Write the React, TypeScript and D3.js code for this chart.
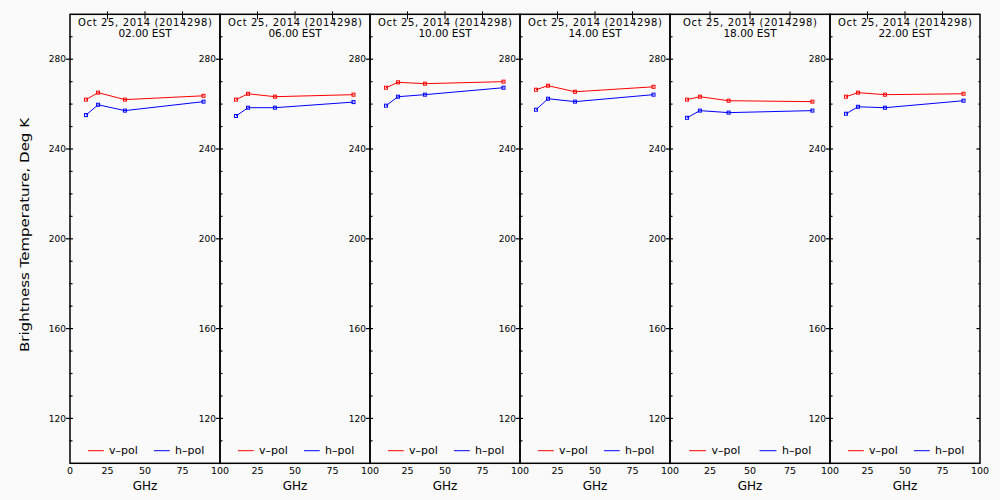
import React from "react";
import * as d3 from "d3";

const frequencies = [10.65, 18.7, 36.64, 89.0];
const dateLabel = "Oct 25, 2014 (2014298)";
const timeLabels = ["02.00 EST", "06.00 EST", "10.00 EST", "14.00 EST", "18.00 EST", "22.00 EST"];
const vPol = [
  [262.0, 265.1, 262.0, 263.7],
  [262.0, 264.6, 263.3, 264.2],
  [267.3, 269.7, 269.1, 270.0],
  [266.4, 268.2, 265.5, 267.7],
  [262.0, 263.3, 261.5, 261.1],
  [263.3, 265.1, 264.2, 264.6],
];
const hPol = [
  [255.1, 259.7, 257.1, 261.1],
  [254.7, 258.4, 258.4, 260.9],
  [259.3, 263.3, 264.2, 267.3],
  [257.5, 262.4, 261.1, 264.2],
  [253.9, 257.1, 256.2, 257.1],
  [255.7, 258.8, 258.4, 261.5],
];
const xTicks = [0, 25, 50, 75, 100];
const yMajorTicks = [120, 160, 200, 240, 280];
const yMinorTicks = d3.range(110, 300, 10).filter((v) => v % 40 !== 0);
const seriesNames = ["v–pol", "h–pol"];
const seriesColors = ["#ff0000", "#0000ff"];

const panelEdges = [70, 220, 370, 520, 670, 830, 980];
const TOP = 14.3;
const BOTTOM = 463.3;
const FONT = "'DejaVu Sans', sans-serif";

export default function App() {
  const y = d3.scaleLinear().domain([100, 300]).range([BOTTOM, TOP]);
  const panels = timeLabels.map((t, i) => {
    const x0 = panelEdges[i];
    const x1 = panelEdges[i + 1];
    const x = d3.scaleLinear().domain([0, 100]).range([x0, x1]);
    return { t, i, x0, x1, x };
  });

  return (
    <svg
      width={1000}
      height={500}
      style={{ position: "absolute", left: 0, top: 0 }}
      fontFamily={FONT}
    >
      <rect x={0} y={0} width={1000} height={500} fill="#fafafa" />
      {panels.map(({ t, i, x0, x1, x }) => {
        const w = x1 - x0;
        const cx = (x0 + x1) / 2;
        const line = d3
          .line<number>()
          .x((_, k) => x(frequencies[k]))
          .y((d) => y(d));
        const series = [vPol[i], hPol[i]];
        const legY = 450.7;
        return (
          <g key={i}>
            {series.map((vals, s) => (
              <g key={s}>
                <path d={line(vals) || ""} fill="none" stroke={seriesColors[s]} strokeWidth={1} />
                {vals.map((v, k) => (
                  <rect
                    key={k}
                    x={x(frequencies[k]) - 1.5}
                    y={y(v) - 1.5}
                    width={3}
                    height={3}
                    fill="none"
                    stroke={seriesColors[s]}
                    strokeWidth={1}
                  />
                ))}
              </g>
            ))}
            <rect x={x0} y={TOP} width={w} height={BOTTOM - TOP} fill="none" stroke="#000" strokeWidth={1.5} />
            {xTicks.slice(1, 4).map((v) => (
              <line key={v} x1={x(v)} x2={x(v)} y1={TOP - 3} y2={TOP + 5} stroke="#000" strokeWidth={1} />
            ))}
            {yMajorTicks.map((v) => (
              <line key={"M" + v} x1={x0 - 4} x2={x0 + 3} y1={y(v)} y2={y(v)} stroke="#000" strokeWidth={1.2} />
            ))}
            {yMinorTicks.map((v) => (
              <line key={"m" + v} x1={x0 - 1} x2={x0 + 2.5} y1={y(v)} y2={y(v)} stroke="#000" strokeWidth={1.2} />
            ))}
            {yMajorTicks.map((v) => (
              <text key={"l" + v} x={x0 - 4} y={y(v)} dy="0.35em" textAnchor="end" fontSize={9} fill="#000">
                {v}
              </text>
            ))}
            {i === panels.length - 1 &&
              yMajorTicks.map((v) => (
                <line key={"RM" + v} x1={x1 - 3.5} x2={x1} y1={y(v)} y2={y(v)} stroke="#000" strokeWidth={1.2} />
              ))}
            {i === panels.length - 1 &&
              yMinorTicks.map((v) => (
                <line key={"Rm" + v} x1={x1 - 1.5} x2={x1} y1={y(v)} y2={y(v)} stroke="#000" strokeWidth={1.2} />
              ))}
            {xTicks
              .filter((v) => i === 0 || v !== 0)
              .map((v) => (
                <text key={"x" + v} x={x(v)} y={474} textAnchor="middle" fontSize={9.5} fill="#000">
                  {v}
                </text>
              ))}
            <text x={cx} y={490} textAnchor="middle" fontSize={12} fill="#000">
              GHz
            </text>
            <text
              x={cx}
              y={25.5}
              textAnchor="middle"
              fontSize={10}
              textLength={134}
              lengthAdjust="spacing"
              fill="#000"
            >
              {dateLabel}
            </text>
            <text x={cx} y={37} textAnchor="middle" fontSize={10.5} fill="#000">
              {t}
            </text>
            {seriesNames.map((name, s) => {
              const lx = x0 + w * (s === 0 ? 0.12 : 0.56);
              return (
                <g key={name}>
                  <line x1={lx} x2={lx + w * 0.105} y1={legY} y2={legY} stroke={seriesColors[s]} strokeWidth={1} />
                  <text x={lx + w * 0.14} y={454} fontSize={11} fill="#000">
                    {name}
                  </text>
                </g>
              );
            })}
          </g>
        );
      })}
      <text
        transform={`translate(28.5,235) rotate(-90)`}
        textAnchor="middle"
        fontSize={13}
        textLength={234}
        lengthAdjust="spacingAndGlyphs"
        fill="#000"
      >
        Brightness Temperature, Deg K
      </text>
    </svg>
  );
}
